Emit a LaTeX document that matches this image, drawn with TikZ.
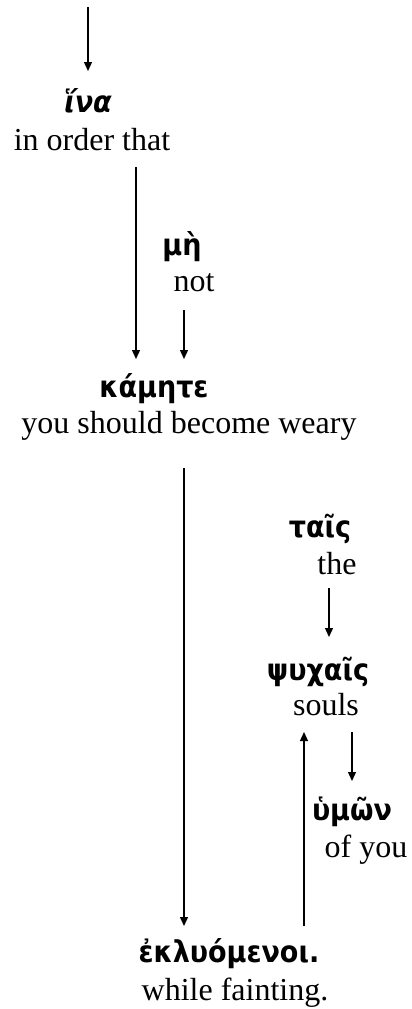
\documentclass[tikz,border=0pt]{standalone}
\usepackage{fontspec}
\setmainfont{Liberation Serif}
\newfontfamily\grk[Script=Greek]{DejaVu Sans Condensed}
\usetikzlibrary{arrows.meta}
\tikzset{
  en/.style={font=\fontsize{32}{34}\selectfont, inner sep=0pt, anchor=base},
  gr/.style={font=\grk\bfseries\fontsize{30}{32}\selectfont, inner sep=0pt, anchor=base},
  arr/.style={line width=1.3pt, -{Triangle[length=9pt,width=8pt]}}
}
\begin{document}
\begin{tikzpicture}[x=1pt,y=-1pt]
\useasboundingbox (0,0) rectangle (412,1009);
% words
\node[gr] (ina) at (88,112) {\itshape ἵνα};
\node[en] (ina-e) at (92,150) {in order that};
\node[gr] (me) at (182,255) {μὴ};
\node[en] (me-e) at (194,291) {not};
\node[gr] (kam) at (154,397) {κάμητε};
\node[en] (kam-e) at (189,433) {you should become weary};
\node[gr] (tais) at (320,537) {ταῖς};
\node[en] (tais-e) at (337,574) {the};
\node[gr] (psy) at (318,680) {ψυχαῖς};
\node[en] (psy-e) at (326,715) {souls};
\node[gr] (hym) at (352,820) {ὑμῶν};
\node[en] (hym-e) at (366,857) {of you};
\node[gr] (ekl) at (229,962) {ἐκλυόμενοι.};
\node[en] (ekl-e) at (235,1000) {while fainting.};
% connector ends
\coordinate (a1s) at (88,7);    \coordinate (a1e) at (88,71);
\coordinate (a2s) at (136,167); \coordinate (a2e) at (136,359);
\coordinate (a3s) at (184,310); \coordinate (a3e) at (184,359);
\coordinate (a4s) at (184,468); \coordinate (a4e) at (184,926);
\coordinate (a5s) at (329,588); \coordinate (a5e) at (329,637);
\coordinate (a6s) at (304,926); \coordinate (a6e) at (304,732);
\coordinate (a7s) at (352,732); \coordinate (a7e) at (352,781);
\draw[arr] (a1s) -- (a1e);
\draw[arr] (a2s) -- (a2e);
\draw[arr] (a3s) -- (a3e);
\draw[arr] (a4s) -- (a4e);
\draw[arr] (a5s) -- (a5e);
\draw[arr] (a6s) -- (a6e);
\draw[arr] (a7s) -- (a7e);
\end{tikzpicture}
\end{document}
